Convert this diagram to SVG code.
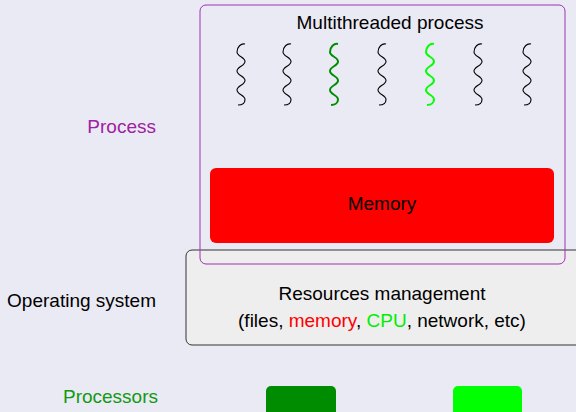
<svg xmlns="http://www.w3.org/2000/svg" width="576" height="412" viewBox="0 0 576 412">
<style>
text{font-family:"Liberation Sans",Arial,sans-serif;font-size:19px;}
.c{text-anchor:middle;}
.r{text-anchor:end;}
.th{fill:none;stroke:#000;stroke-width:1.1;}
.thd{fill:none;stroke:#008c00;stroke-width:2;}
.thl{fill:none;stroke:#00ff00;stroke-width:2;}
</style>
<defs>
<path id="wave" d="M4,1 C0,0 -4,4 -4,9 C-4,13.5 4,14 4,18.5 C4,23 -4,23.5 -4,28 C-4,32.5 4,33 4,37.5 C4,42 -4,42.5 -4,47 C-4,51.5 4,52 4,56.5 C4,60 1,62 -3,62"/>
</defs>
<rect width="576" height="412" fill="#eaeaf5"/>
<g id="labels">
<text x="156" y="133" class="r" fill="#a020a0">Process</text>
<text x="156" y="307" class="r" fill="#000">Operating system</text>
<text x="158" y="403" class="r" fill="#119911">Processors</text>
</g>
<g id="os">
<rect x="186" y="250" width="400" height="95" rx="6" fill="#eeeeee" stroke="#333" stroke-width="1"/>
<text x="382" y="300" class="c">Resources management</text>
<text x="382" y="327" class="c">(files, <tspan fill="#ff0000">memory</tspan>, <tspan fill="#00ee00">CPU</tspan>, network, etc)</text>
</g>
<g id="process">
<rect x="200" y="5" width="365" height="259" rx="6" fill="none" stroke="#a030b0" stroke-width="1"/>
<text x="390" y="29" class="c">Multithreaded process</text>
</g>
<g id="memory">
<rect x="210" y="168" width="344" height="75" rx="6" fill="#ff0000"/>
<text x="382" y="210" class="c">Memory</text>
</g>
<g id="threads">
<use href="#wave" x="241" y="43" class="th"/>
<use href="#wave" x="287" y="43" class="th"/>
<use href="#wave" x="334" y="43" class="thd"/>
<use href="#wave" x="382" y="43" class="th"/>
<use href="#wave" x="430" y="43" class="thl"/>
<use href="#wave" x="478" y="43" class="th"/>
<use href="#wave" x="527" y="43" class="th"/>
</g>
<g id="cpu1"><rect x="266" y="386" width="70" height="36" rx="5" fill="#008c00"/></g>
<g id="cpu2"><rect x="453" y="386" width="69" height="36" rx="5" fill="#00ff00"/></g>
</svg>
